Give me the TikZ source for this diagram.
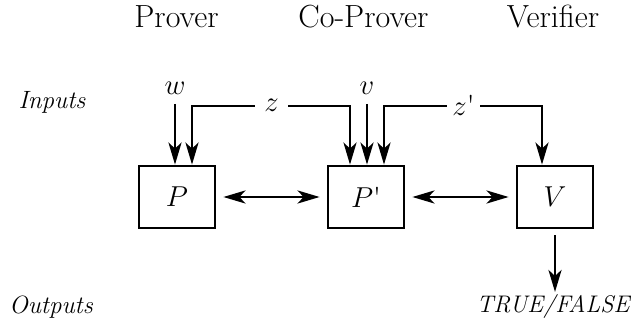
\documentclass[tikz,border=0pt]{standalone}
\usetikzlibrary{arrows.meta}
\begin{document}
\begin{tikzpicture}[x=0.5pt,y=-0.5pt,
  tip/.tip={Stealth[length=11pt,width=6.5pt,inset=3pt]},
  box/.style={draw,line width=1.4pt,minimum width=38pt,minimum height=31pt,inner sep=0pt,font=\Large},
  conn/.style={line width=1.4pt,-tip},
  dconn/.style={line width=1.4pt,tip-tip},
  head/.style={anchor=base,inner sep=0pt,font=\fontsize{16}{19}\selectfont},
  side/.style={anchor=base,inner sep=0pt,font=\fontsize{12.5}{15}\selectfont\itshape},
  lbl/.style={inner sep=1pt,font=\Large},
  gap/.style={inner sep=0pt,minimum width=16.5pt,font=\Large}]
\useasboundingbox (0,0) rectangle (632,325);
% headers
\node[head] (hp) at (176.5,28) {Prover};
\node[head] (hc) at (363.5,28) {Co-Prover};
\node[head] (hv) at (553,28) {Verifier};
\node[side] (inp) at (52,109) {Inputs};
\node[side] (outp) at (51,314) {Outputs};
% boxes
\node[box] (P) at (177,197) {$P$};
\node[box] (Pp) at (366,197) {$P$\textquotesingle};
\node[box] (V) at (555,197) {$V$};
% input labels
\node[lbl] (w) at (175,88) {$w$};
\node[lbl] (v) at (367,88) {$v$};
\node[gap] (z) at (271.5,105) {$z$};
\node[gap] (zp) at (463.5,105) {$z$\textquotesingle};
% inputs
\coordinate (wt) at (175,104);
\coordinate (vt) at (367,104);
\draw[conn] (wt) -- (wt |- P.north);
\draw[conn] (vt) -- (vt |- Pp.north);
\coordinate (zl) at (192,106);
\coordinate (zr) at (350,106);
\coordinate (zpl) at (384,106);
\coordinate (zpr) at (542,106);
\draw[conn] (z.west |- zl) -- (zl) -- (zl |- P.north);
\draw[conn] (z.east |- zr) -- (zr) -- (zr |- Pp.north);
\draw[conn] (zp.west |- zpl) -- (zpl) -- (zpl |- Pp.north);
\draw[conn] (zp.east |- zpr) -- (zpr) -- (zpr |- V.north);
% interaction
\draw[dconn] ([xshift=3.5pt]P.east) -- ([xshift=-3.5pt]Pp.west);
\draw[dconn] ([xshift=3.5pt]Pp.east) -- ([xshift=-3.5pt]V.west);
% output
\node[side,font=\fontsize{12}{14}\selectfont\itshape] (tf) at (553,313) {TRUE/FALSE};
\coordinate (oe) at (555,292);
\draw[conn] ([yshift=-3pt]V.south) -- (oe);
\end{tikzpicture}
\end{document}
